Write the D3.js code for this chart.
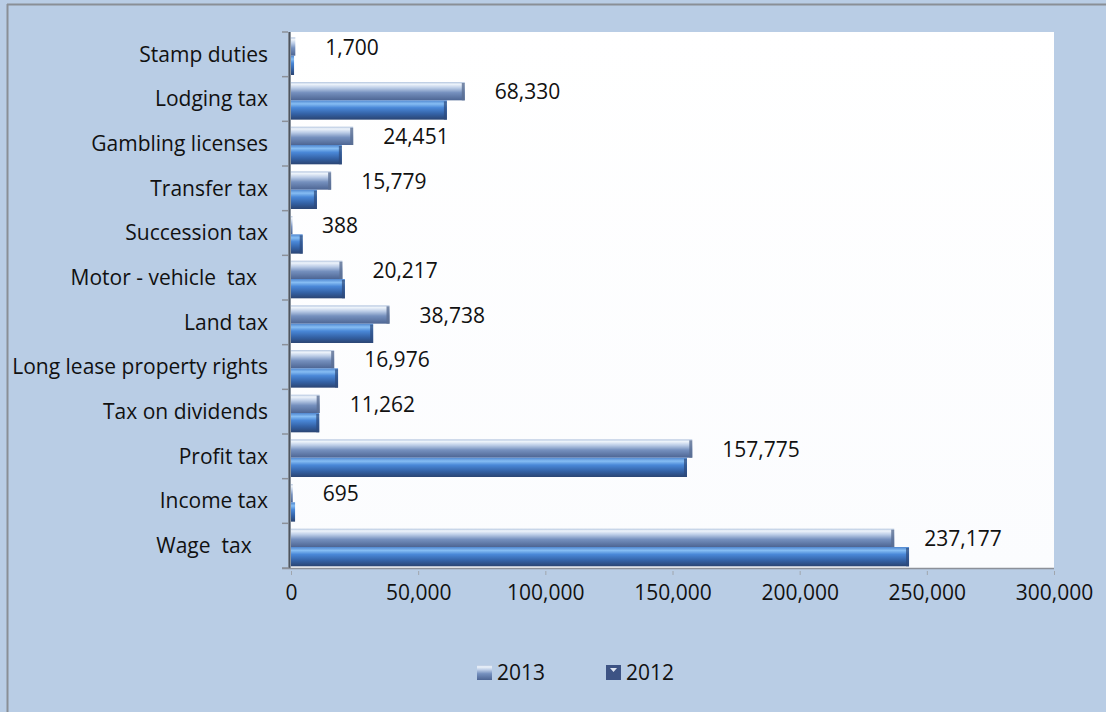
<!DOCTYPE html>
<html><head><meta charset="utf-8">
<script src="https://cdn.jsdelivr.net/npm/d3@7/dist/d3.min.js"></script>
<style>html,body{margin:0;padding:0;background:#b9cde5;}svg{display:block;}text{white-space:pre;}</style>
</head><body>
<svg id="c" width="1106" height="712"></svg>
<script>
const categories = ["Stamp duties","Lodging tax","Gambling licenses","Transfer tax","Succession tax","Motor - vehicle  tax  ","Land tax","Long lease property rights","Tax on dividends","Profit tax","Income tax","Wage  tax   "];
const values2013 = [1700,68330,24451,15779,388,20217,38738,16976,11262,157775,695,237177];
const values2012 = [1200,61300,20000,10200,4600,21200,32300,18500,11100,155700,1600,243000];
const labels2013 = ["1,700","68,330","24,451","15,779","388","20,217","38,738","16,976","11,262","157,775","695","237,177"];
const xTicks = [0,50000,100000,150000,200000,250000,300000];
const seriesNames = ["2013","2012"];

const svg = d3.select("#c");
const W = 1106, H = 712;
const font = "'Open Sans', sans-serif";
const fs = 21;
const plot = {l:291, r:1054, t:32, b:568};

// background & frame
svg.append("rect").attr("x",0).attr("y",0).attr("width",W).attr("height",H).attr("fill","#b9cde5");
svg.append("line").attr("x1",7).attr("x2",W).attr("y1",4.5).attr("y2",4.5).attr("stroke","#8a8f96").attr("stroke-width",2);
svg.append("line").attr("x1",7.5).attr("x2",7.5).attr("y1",4).attr("y2",H).attr("stroke","#8a8f96").attr("stroke-width",2);

const defs = svg.append("defs");
function grad(id, stops){
  const g = defs.append("linearGradient").attr("id",id).attr("x1",0).attr("y1",0).attr("x2",0).attr("y2",1);
  stops.forEach(s=>g.append("stop").attr("offset",s[0]).attr("stop-color",s[1]));
}
grad("g13",[[0,"#b2c4de"],[0.12,"#eef4fb"],[0.32,"#bccde7"],[0.58,"#7590be"],[1,"#4d6593"]]);
grad("g12",[[0,"#4f86cf"],[0.18,"#86bdf3"],[0.38,"#4a88d8"],[0.7,"#3462a6"],[1,"#2a4472"]]);
grad("plotg",[[0,"#ffffff"],[1,"#fbfcfe"]]);
const gx = defs.append("linearGradient").attr("id","axl").attr("x1",0).attr("x2",1).attr("y1",0).attr("y2",0);
gx.append("stop").attr("offset",0).attr("stop-color","#9aa3ae");
gx.append("stop").attr("offset",0.5).attr("stop-color","#4d5560");
gx.append("stop").attr("offset",1).attr("stop-color","#aab3bd");

svg.append("rect").attr("x",plot.l).attr("y",plot.t).attr("width",plot.r-plot.l).attr("height",plot.b-plot.t).attr("fill","url(#plotg)");

const x = d3.scaleLinear().domain([0,300000]).range([plot.l, plot.r]);
const y = d3.scaleBand().domain(categories).range([plot.t, plot.b]).paddingInner(0).paddingOuter(0);
const bw = y.bandwidth();
const barH = bw*0.41;
const top13 = bw*0.12;

// bars
const g = svg.append("g");
categories.forEach((c,i)=>{
  const y0 = y(c);
  const v13 = values2013[i], v12 = values2012[i];
  g.append("rect").attr("x",x(0)).attr("y",y0+top13).attr("width",Math.max(1.5,x(v13)-x(0))).attr("height",barH).attr("fill","url(#g13)");
  g.append("rect").attr("x",x(v13)-3).attr("y",y0+top13+1).attr("width",3).attr("height",barH-1).attr("fill","#5b6f94").attr("opacity",x(v13)-x(0)>6?0.8:0);
  g.append("rect").attr("x",x(0)).attr("y",y0+top13+barH).attr("width",Math.max(1.5,x(v12)-x(0))).attr("height",barH+1).attr("fill","url(#g12)");
  g.append("rect").attr("x",x(v12)-3).attr("y",y0+top13+barH+1).attr("width",3).attr("height",barH).attr("fill","#2d4a7c").attr("opacity",x(v12)-x(0)>6?0.7:0);
});

// left axis line and ticks
svg.append("rect").attr("x",plot.l-3).attr("y",plot.t).attr("width",3).attr("height",plot.b-plot.t).attr("fill","url(#axl)");
const yTickPos = categories.map(c=>y(c)).concat([plot.b]);
svg.selectAll(".yt").data(yTickPos).enter().append("line")
  .attr("x1",plot.l-9).attr("x2",plot.l-3).attr("y1",d=>d).attr("y2",d=>d)
  .attr("stroke","#8c9099").attr("stroke-width",1.5);

// bottom axis
const xAxis = d3.axisBottom(x).tickValues(xTicks).tickSize(5).tickPadding(12).tickFormat(d3.format(","));
const ax = svg.append("g").attr("transform",`translate(0,${plot.b})`).call(xAxis);
ax.select(".domain").attr("stroke","#8c9099").attr("stroke-width",1.5).attr("d",`M${plot.l-9},0.5H${plot.r}`);
ax.selectAll(".tick line").attr("stroke","#a0a6ae").attr("y1",3).attr("y2",7);
ax.selectAll(".tick text").attr("font-family",font).attr("font-size",fs).attr("fill","#111");

// category labels
svg.append("g").selectAll("text").data(categories).enter().append("text")
  .attr("x",268).attr("y",d=>y(d)+bw/2).attr("dy","0.35em").attr("text-anchor","end")
  .attr("font-family",font).attr("font-size",fs).attr("fill","#111").text(d=>d);

// value labels
svg.append("g").selectAll("text").data(categories).enter().append("text")
  .attr("x",(d,i)=>x(values2013[i]) + 30)
  .attr("y",d=>y(d)+bw/2-7).attr("dy","0.35em")
  .attr("font-family",font).attr("font-size",fs).attr("fill","#111").text((d,i)=>labels2013[i]);

// legend
const lg = svg.append("g");
const lx = [477, 606];
seriesNames.forEach((s,i)=>{
  lg.append("rect").attr("x",lx[i]).attr("y",665).attr("width",15).attr("height",15).attr("fill",i===0?"url(#g13)":"#3d5384");
  if(i===1){ lg.append("path").attr("d",`M${lx[i]+4},668H${lx[i]+11}L${lx[i]+7.5},672Z`).attr("fill","#dfe6f2"); }
  lg.append("text").attr("x",lx[i]+20).attr("y",672.5).attr("dy","0.35em").attr("font-family",font).attr("font-size",fs).attr("fill","#111").text(s);
});
</script>
</body></html>
